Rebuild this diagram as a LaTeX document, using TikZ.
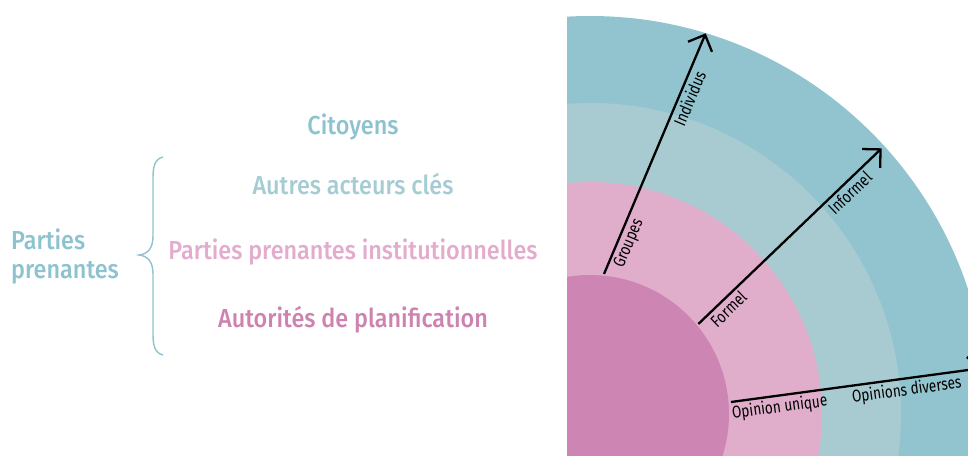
\documentclass[tikz,border=0pt]{standalone}
\usepackage{fontspec}
\setmainfont{Fira Sans}
\newfontfamily\headfont[FakeStretch=0.9]{Fira Sans Medium}
\newfontfamily\labfont[FakeStretch=0.8]{Fira Sans}
\usetikzlibrary{arrows.meta}

\definecolor{ringA}{HTML}{92C4D0}
\definecolor{ringB}{HTML}{A8CBD1}
\definecolor{ringC}{HTML}{E0AECB}
\definecolor{ringD}{HTML}{CD86B3}
\definecolor{txtA}{HTML}{8DC2CF}
\definecolor{txtB}{HTML}{A6CCD3}
\definecolor{txtC}{HTML}{E3ABCC}
\definecolor{txtD}{HTML}{CD82B0}
\definecolor{bracecol}{HTML}{8EC3CE}

\tikzset{
  head/.style={font=\headfont\fontsize{26}{29}\selectfont, inner sep=0pt, anchor=base},
  axis/.style={line width=2.3pt, black,
    -{Straight Barb[length=13pt, width=26pt, line width=2.3pt]}},
  lab/.style={font=\labfont\fontsize{17}{19}\selectfont, sloped, below,
    inner sep=2.5pt, text=black},
}

\begin{document}
\begin{tikzpicture}[x=1pt, y=-1pt]
  \useasboundingbox (0,0) rectangle (968,455);

  % quarter rings, clipped to the right half of the page
  \coordinate (ctr) at (590,414);
  \begin{scope}
    \clip (567,0) rectangle (968,455);
    \fill[ringA] (ctr) circle[radius=398pt];
    \fill[ringB] (ctr) circle[radius=311pt];
    \fill[ringC] (ctr) circle[radius=232pt];
    \fill[ringD] (ctr) circle[radius=139pt];
  \end{scope}

  % stakeholder levels
  \node[head, text=txtA] (cit) at (353,134) {Citoyens};
  \node[head, text=txtB] (aut) at (353,194) {Autres acteurs clés};
  \node[head, text=txtC] (ppi) at (353,259) {Parties prenantes institutionnelles};
  \node[head, text=txtD] (apl) at (353,327) {Autorités de planification};

  \node[font=\headfont\fontsize{26}{29}\selectfont, text=txtA, align=left,
        inner sep=0pt, anchor=west] (pp) at (11,256) {Parties\\prenantes};

  % curly brace
  \draw[bracecol, line width=1.4pt]
    (163,157) .. controls (155,159) and (153,166) .. (153,178)
    -- (153,236) .. controls (153,248) and (148,254) .. (139,255)
    .. controls (148,256) and (153,262) .. (153,274)
    -- (153,334) .. controls (153,346) and (155,353) .. (163,355);

  % axes
  \coordinate (g0) at (604,274);
  \coordinate (g1) at (705.7,33.3);
  \coordinate (f0) at (698.3,324);
  \coordinate (f1) at (881.7,148.3);
  \coordinate (o0) at (731,402);
  \coordinate (o1) at (983,368);

  \draw[axis] (g0) -- node[lab, pos=0.145] (grp) {Groupes}
                      node[lab, pos=0.746] (ind) {Individus} (g1);
  \draw[axis] (f0) -- node[lab, pos=0.126] (frm) {Formel}
                      node[lab, pos=0.788] (inf) {Informel} (f1);
  \draw[axis] (o0) -- node[lab, pos=0.187] (opu) {Opinion unique}
                      node[lab, pos=0.691] (opd) {Opinions diverses} (o1);
\end{tikzpicture}
\end{document}
